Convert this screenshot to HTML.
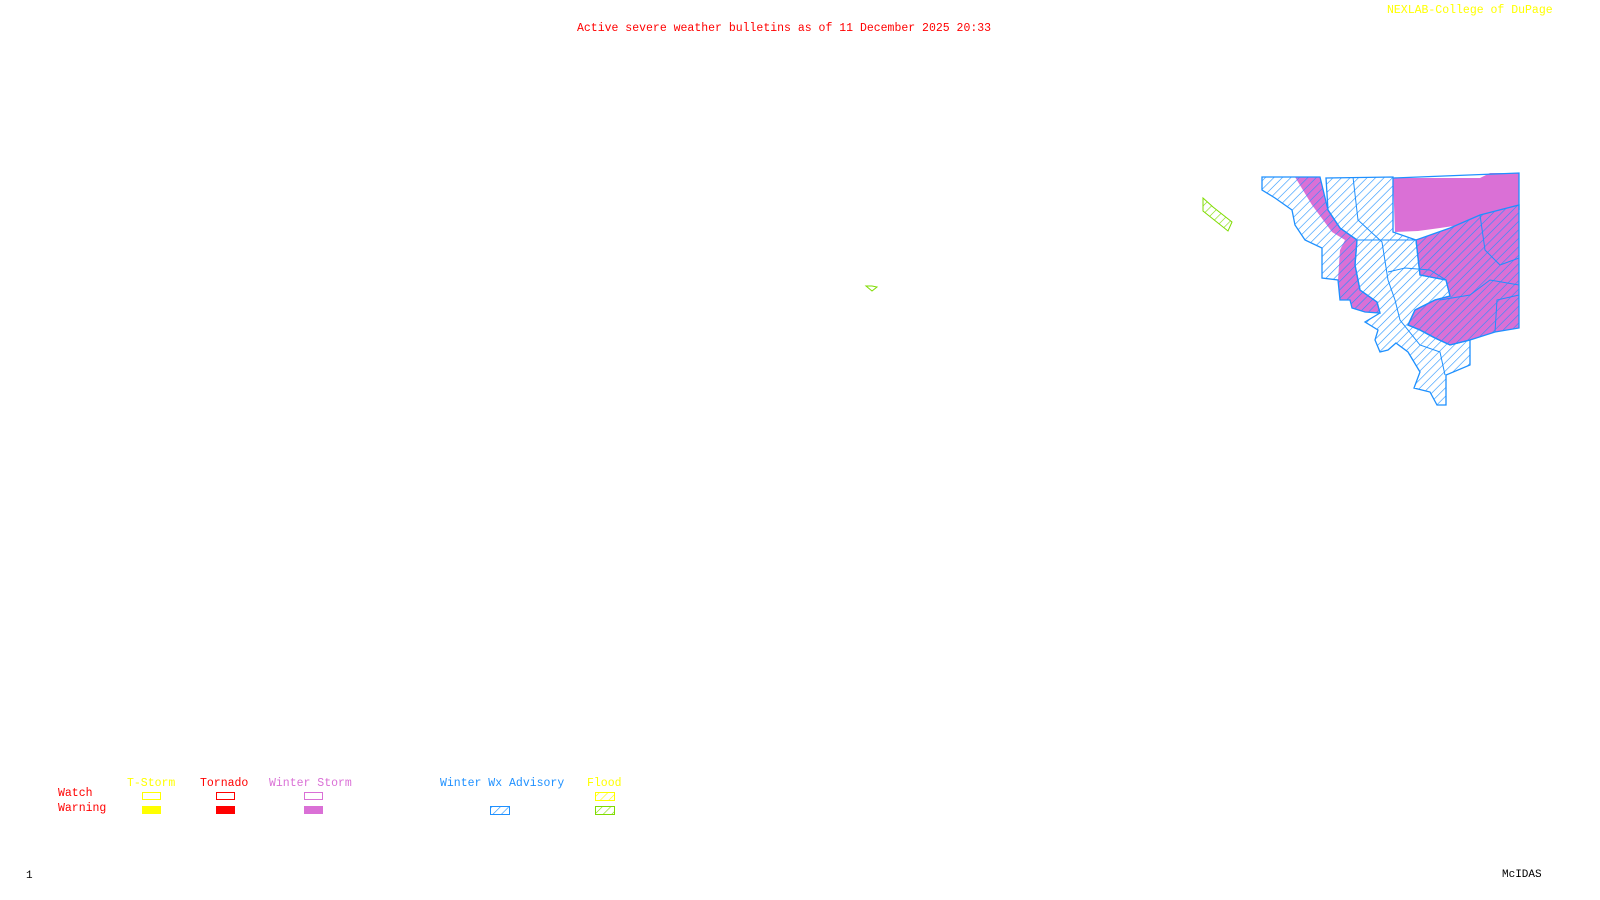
<!DOCTYPE html>
<html><head><style>
html,body{margin:0;padding:0;background:#fff;}
body{width:1600px;height:900px;position:relative;overflow:hidden;font-family:"Liberation Mono",monospace;font-size:11.5px;}
.t{position:absolute;white-space:nowrap;line-height:12px;}
.b{position:absolute;width:19px;height:8px;box-sizing:border-box;}
</style></head><body>
<div class="t" style="left:577px;top:23px;color:#f00;">Active severe weather bulletins as of 11 December 2025 20:33</div>
<div class="t" style="left:1387px;top:5px;color:#ff0;">NEXLAB-College of DuPage</div>
<div class="t" style="left:26px;top:870px;color:#000;font-size:11px;">1</div>
<div class="t" style="left:1502px;top:869px;color:#000;font-size:11px;">McIDAS</div>

<div class="t" style="left:58px;top:788px;color:#f00;">Watch</div>
<div class="t" style="left:58px;top:803px;color:#f00;">Warning</div>
<div class="t" style="left:127px;top:778px;color:#ff0;">T-Storm</div>
<div class="t" style="left:200px;top:778px;color:#f00;">Tornado</div>
<div class="t" style="left:269px;top:778px;color:#da70d6;">Winter Storm</div>
<div class="t" style="left:440px;top:778px;color:#1e90ff;">Winter Wx Advisory</div>
<div class="t" style="left:587px;top:778px;color:#ff0;">Flood</div>

<div class="b" style="left:142px;top:792px;border:1px solid #ff0;"></div>
<div class="b" style="left:142px;top:806px;background:#ff0;"></div>
<div class="b" style="left:216px;top:792px;border:1px solid #f00;"></div>
<div class="b" style="left:216px;top:806px;background:#f00;"></div>
<div class="b" style="left:304px;top:792px;border:1px solid #da70d6;"></div>
<div class="b" style="left:304px;top:806px;background:#da70d6;"></div>

<svg width="1600" height="900" style="position:absolute;left:0;top:0">
<defs>
<pattern id="hb" width="6" height="6" patternUnits="userSpaceOnUse" patternTransform="rotate(45)"><line x1="0" y1="0" x2="0" y2="6" stroke="#1e90ff" stroke-width="1.2"/></pattern>
<pattern id="hg" width="6" height="6" patternUnits="userSpaceOnUse" patternTransform="rotate(45)"><line x1="0" y1="0" x2="0" y2="6" stroke="#7fdc00" stroke-width="1.2"/></pattern>
<pattern id="hy" width="6" height="6" patternUnits="userSpaceOnUse" patternTransform="rotate(45)"><line x1="0" y1="0" x2="0" y2="6" stroke="#ff0" stroke-width="1.2"/></pattern>
</defs>
<rect x="490.5" y="806.5" width="19" height="8" fill="url(#hb)" stroke="#1e90ff"/>
<rect x="595.5" y="792.5" width="19" height="8" fill="url(#hy)" stroke="#ff0"/>
<rect x="595.5" y="806.5" width="19" height="8" fill="url(#hg)" stroke="#7fdc00"/>

<polygon points="1203,198 1213,207 1232,222 1228,231 1203,211" fill="url(#hg)" stroke="#7fdc00"/>
<polygon points="866,286 872,286 877,287 872,291" fill="none" stroke="#7fdc00"/>

<polygon points="1393,178 1480,178 1490,173 1519,173 1519,210 1480,215 1460,225 1440,228 1418,231 1395,232" fill="#da70d6"/>
<polygon points="1295,177 1320,177 1328,210 1340,228 1357,240 1355,265 1360,290 1377,302 1380,313 1365,312 1352,308 1350,300 1340,300 1338,280 1340,250 1345,240 1332,232 1312,205" fill="#da70d6"/>
<polygon points="1416,240 1450,228 1480,215 1519,205 1519,328 1495,332 1470,340 1450,345 1435,338 1420,330 1408,325 1415,310 1435,300 1450,296 1446,280 1420,275" fill="#da70d6"/>
<polygon points="1262,177 1295,177 1320,177 1328,210 1340,228 1357,240 1355,265 1360,290 1377,302 1380,313 1365,312 1352,308 1350,300 1340,300 1338,280 1322,278 1322,248 1305,240 1295,225 1292,210 1275,198 1262,190" fill="url(#hb)" stroke="#1e90ff" stroke-width="1.3"/>
<polygon points="1326,178 1393,177 1393,232 1416,240 1420,275 1446,280 1450,296 1435,300 1415,310 1408,325 1420,330 1435,338 1450,345 1470,340 1470,365 1446,375 1446,405 1437,405 1430,392 1414,388 1420,372 1408,352 1396,343 1388,350 1380,352 1375,340 1378,330 1365,322 1380,313 1377,302 1360,290 1355,265 1357,240 1340,228 1328,210" fill="url(#hb)" stroke="#1e90ff" stroke-width="1.3"/>
<polygon points="1416,240 1450,228 1480,215 1519,205 1519,328 1495,332 1470,340 1450,345 1435,338 1420,330 1408,325 1415,310 1435,300 1450,296 1446,280 1420,275" fill="url(#hb)" stroke="#1e90ff" stroke-width="1.3"/>
<polyline points="1393,178 1519,173 1519,210" fill="none" stroke="#1e90ff" stroke-width="1.3"/>
<polyline points="1353,177 1358,220 1382,242 1388,280 1395,300" fill="none" stroke="#1e90ff"/>
<polyline points="1357,240 1382,240 1416,240" fill="none" stroke="#1e90ff"/>
<polyline points="1388,272 1405,268 1430,270 1446,280" fill="none" stroke="#1e90ff"/>
<polyline points="1480,215 1485,250 1500,265 1519,258" fill="none" stroke="#1e90ff"/>
<polyline points="1440,300 1470,295 1490,280 1519,285" fill="none" stroke="#1e90ff"/>
<polyline points="1495,332 1497,300 1519,295" fill="none" stroke="#1e90ff"/>
<polyline points="1395,300 1400,320 1420,345 1440,352 1445,375" fill="none" stroke="#1e90ff"/>
</svg>
</body></html>
